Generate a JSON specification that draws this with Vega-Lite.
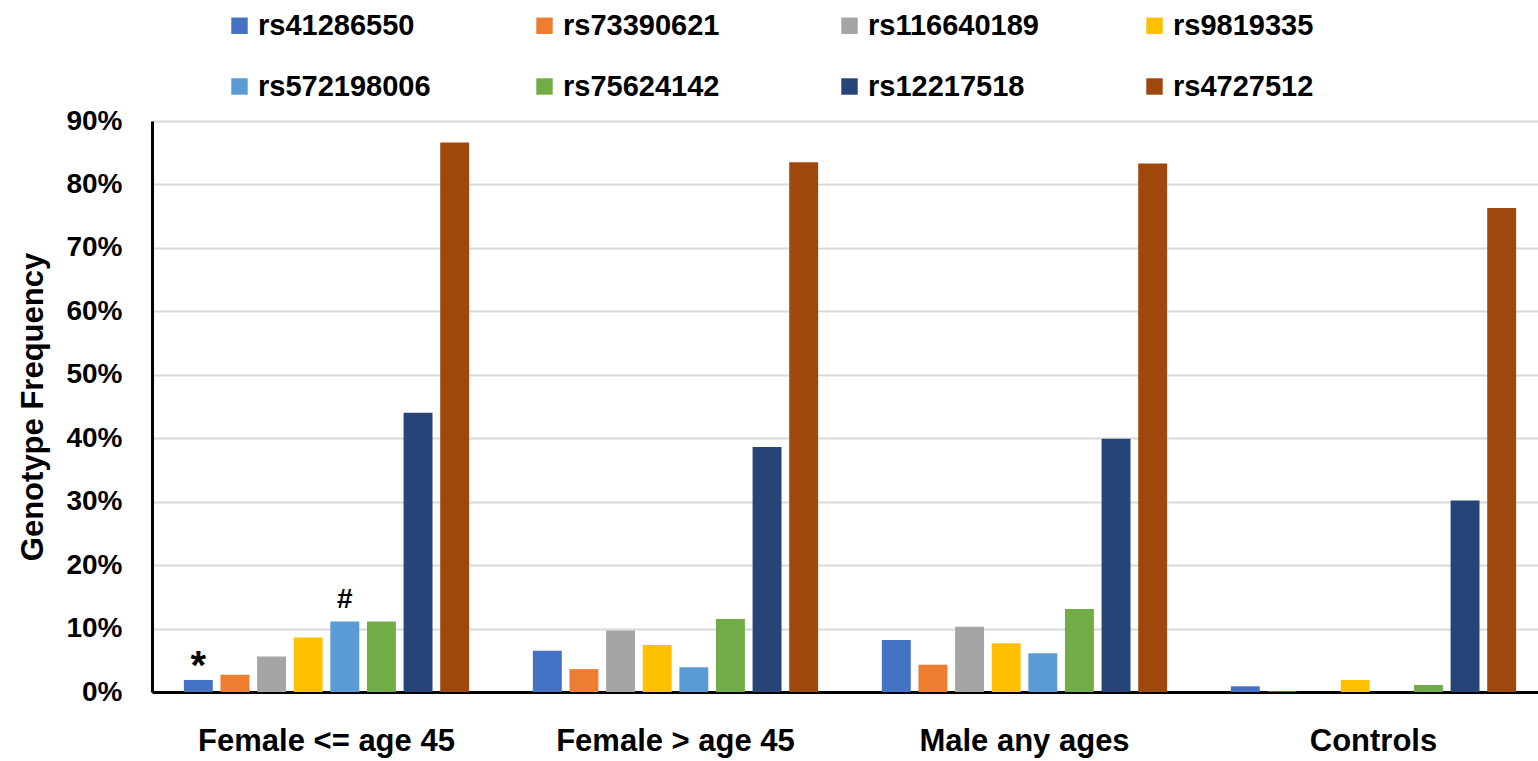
{
  "$schema": "https://vega.github.io/schema/vega-lite/v6.json",
  "width": 1386,
  "height": 571,
  "autosize": {"type": "none"},
  "padding": {"left": 152, "top": 121, "right": 0, "bottom": 69},
  "background": "white",
  "config": {"view": {"stroke": null}, "font": "Liberation Sans"},
  "data": {
    "values": [
      {"group": "Female <= age 45", "snp": "rs41286550", "value": 0.019, "note": "*"},
      {"group": "Female <= age 45", "snp": "rs73390621", "value": 0.027},
      {"group": "Female <= age 45", "snp": "rs116640189", "value": 0.056},
      {"group": "Female <= age 45", "snp": "rs9819335", "value": 0.086},
      {"group": "Female <= age 45", "snp": "rs572198006", "value": 0.111, "note": "#"},
      {"group": "Female <= age 45", "snp": "rs75624142", "value": 0.111},
      {"group": "Female <= age 45", "snp": "rs12217518", "value": 0.440},
      {"group": "Female <= age 45", "snp": "rs4727512", "value": 0.866},
      {"group": "Female > age 45", "snp": "rs41286550", "value": 0.065},
      {"group": "Female > age 45", "snp": "rs73390621", "value": 0.036},
      {"group": "Female > age 45", "snp": "rs116640189", "value": 0.097},
      {"group": "Female > age 45", "snp": "rs9819335", "value": 0.074},
      {"group": "Female > age 45", "snp": "rs572198006", "value": 0.039},
      {"group": "Female > age 45", "snp": "rs75624142", "value": 0.115},
      {"group": "Female > age 45", "snp": "rs12217518", "value": 0.386},
      {"group": "Female > age 45", "snp": "rs4727512", "value": 0.835},
      {"group": "Male any ages", "snp": "rs41286550", "value": 0.082},
      {"group": "Male any ages", "snp": "rs73390621", "value": 0.043},
      {"group": "Male any ages", "snp": "rs116640189", "value": 0.103},
      {"group": "Male any ages", "snp": "rs9819335", "value": 0.077},
      {"group": "Male any ages", "snp": "rs572198006", "value": 0.061},
      {"group": "Male any ages", "snp": "rs75624142", "value": 0.131},
      {"group": "Male any ages", "snp": "rs12217518", "value": 0.399},
      {"group": "Male any ages", "snp": "rs4727512", "value": 0.833},
      {"group": "Controls", "snp": "rs41286550", "value": 0.009},
      {"group": "Controls", "snp": "rs73390621", "value": 0.001},
      {"group": "Controls", "snp": "rs116640189", "value": 0.0},
      {"group": "Controls", "snp": "rs9819335", "value": 0.019},
      {"group": "Controls", "snp": "rs572198006", "value": 0.0},
      {"group": "Controls", "snp": "rs75624142", "value": 0.011},
      {"group": "Controls", "snp": "rs12217518", "value": 0.302},
      {"group": "Controls", "snp": "rs4727512", "value": 0.763}
    ]
  },
  "encoding": {
    "x": {
      "field": "group",
      "type": "nominal",
      "sort": ["Female <= age 45", "Female > age 45", "Male any ages", "Controls"],
      "scale": {"range": [0, 1396], "paddingInner": 0, "paddingOuter": 0},
      "axis": {
        "title": null,
        "labelAngle": 0,
        "labelFontSize": 31,
        "labelFontWeight": "bold",
        "labelColor": "black",
        "labelPadding": 34,
        "labelLimit": 500,
        "ticks": false,
        "domainColor": "black",
        "domainWidth": 3,
        "grid": false
      }
    },
    "xOffset": {
      "field": "snp",
      "type": "nominal",
      "sort": ["rs41286550", "rs73390621", "rs116640189", "rs9819335", "rs572198006", "rs75624142", "rs12217518", "rs4727512"],
      "scale": {"paddingInner": 0.21, "paddingOuter": 0.87}
    },
    "y": {
      "field": "value",
      "type": "quantitative",
      "scale": {"domain": [0, 0.9], "nice": false},
      "axis": {
        "title": "Genotype Frequency",
        "titleFontSize": 31,
        "titleFontWeight": "bold",
        "titleColor": "black",
        "titlePadding": 16,
        "values": [0, 0.1, 0.2, 0.3, 0.4, 0.5, 0.6, 0.7, 0.8, 0.9],
        "format": ".0%",
        "labelFontSize": 28,
        "labelFontWeight": "bold",
        "labelColor": "black",
        "labelPadding": 30,
        "ticks": false,
        "domainColor": "black",
        "domainWidth": 3,
        "gridColor": "#d9d9d9",
        "gridWidth": 2
      }
    }
  },
  "layer": [
    {
      "mark": {"type": "bar"},
      "encoding": {
        "color": {
          "field": "snp",
          "type": "nominal",
          "sort": ["rs41286550", "rs73390621", "rs116640189", "rs9819335", "rs572198006", "rs75624142", "rs12217518", "rs4727512"],
          "scale": {
            "domain": ["rs41286550", "rs73390621", "rs116640189", "rs9819335", "rs572198006", "rs75624142", "rs12217518", "rs4727512"],
            "range": ["#4472C4", "#ED7D31", "#A5A5A5", "#FFC000", "#5B9BD5", "#70AD47", "#264478", "#9E480E"]
          },
          "legend": {
            "title": null,
            "orient": "none",
            "legendX": 73,
            "legendY": -110,
            "direction": "horizontal",
            "columns": 4,
            "gridAlign": "all",
            "symbolType": "square",
            "symbolSize": 270,
            "symbolStrokeWidth": 0,
            "labelFontSize": 29,
            "labelFontWeight": "bold",
            "labelColor": "black",
            "labelOffset": 4,
            "labelLimit": 400,
            "columnPadding": 99,
            "rowPadding": 31,
            "padding": 0
          }
        }
      }
    },
    {
      "transform": [{"filter": "datum.note === '#'"}],
      "mark": {"type": "text", "fontSize": 28, "fontWeight": "bold", "color": "black", "baseline": "alphabetic", "dy": -14},
      "encoding": {"text": {"field": "note"}}
    },
    {
      "transform": [{"filter": "datum.note === '*'"}],
      "mark": {"type": "text", "fontSize": 40, "fontWeight": "bold", "color": "black", "baseline": "alphabetic", "dy": -1},
      "encoding": {"text": {"field": "note"}}
    }
  ]
}
